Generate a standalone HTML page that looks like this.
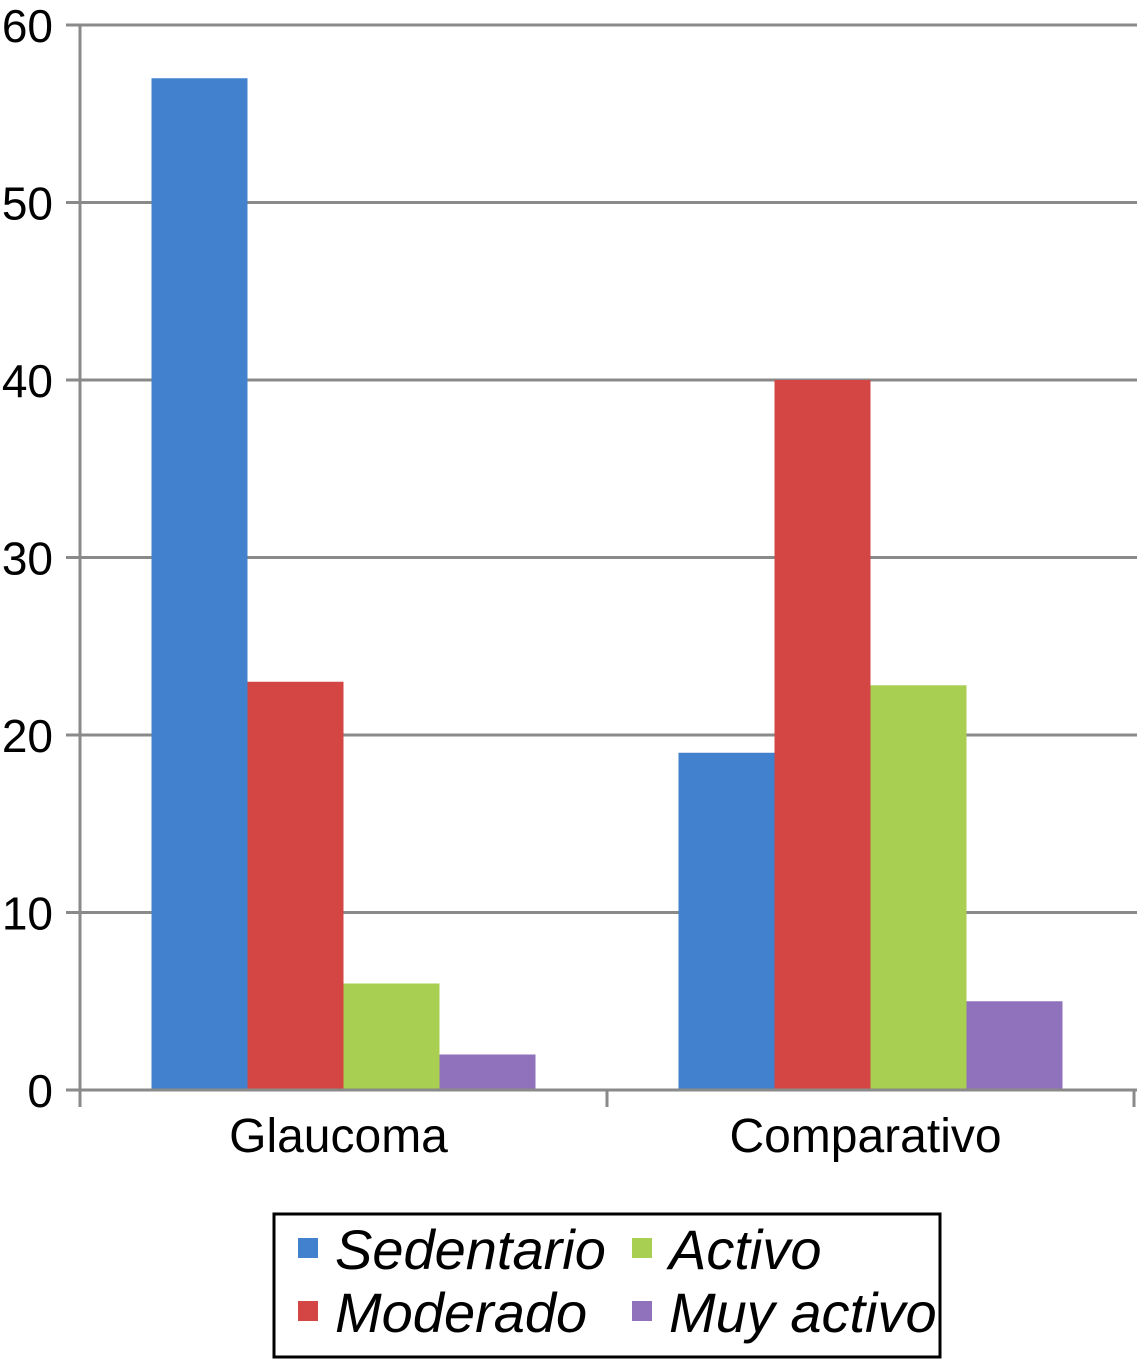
<!DOCTYPE html>
<html><head><meta charset="utf-8"><style>
html,body{margin:0;padding:0;background:#fff;}
svg{display:block;font-family:"Liberation Sans",sans-serif;}
</style></head><body>
<svg id="chart" width="1137" height="1359" viewBox="0 0 1137 1359"></svg>
<script>
const categories = ["Glaucoma","Comparativo"];
const seriesNames = ["Sedentario","Moderado","Activo","Muy activo"];
const sedentario = [57, 19];
const moderado = [23, 40];
const activo = [6, 22.8];
const muyActivo = [2, 5];
const yTicks = [0,10,20,30,40,50,60];
const colors = ["#4181cd","#d34643","#a8ce52","#9071bb"];
const series = [sedentario, moderado, activo, muyActivo];

const NS="http://www.w3.org/2000/svg";
const svg=document.getElementById('chart');
const x0=80, x1=1134, yBase=1090, yTop=25, yMax=60;
const y=v=>yBase-(v/yMax)*(yBase-yTop);
const catW=(x1-x0)/categories.length;
const barW=96;
function mk(tag,attrs){const e=document.createElementNS(NS,tag);for(const k in attrs)e.setAttribute(k,attrs[k]);svg.appendChild(e);return e;}

yTicks.forEach(t=>{
  const g=mk('line',{x1:66,x2:x1+3,y1:y(t),y2:y(t),stroke:'#8a8a8a','stroke-width':3});
  
  
  const l=mk('text',{x:53,y:y(t)+17,'text-anchor':'end','font-size':46,fill:'#000'});
  l.textContent=t;
  
  
});

categories.forEach((c,ci)=>{
  const start=x0+catW*ci+(catW-barW*series.length)/2;
  series.forEach((s,si)=>{
    const r=mk('rect',{x:start+si*barW,y:y(s[ci]),width:barW,height:yBase-y(s[ci]),fill:colors[si]});
    
    
  });
  const t=mk('text',{x:x0+catW*(ci+0.5)-5,y:1152,'text-anchor':'middle','font-size':48,fill:'#000'});
  t.textContent=c;
  
  
});

const ax=mk('line',{x1:x0,x2:x0,y1:yTop-1,y2:1107,stroke:'#8a8a8a','stroke-width':3});


const bx=mk('line',{x1:x0,x2:x1+3,y1:yBase,y2:yBase,stroke:'#8a8a8a','stroke-width':3});


for(let i=0;i<=categories.length;i++){
  const tk=mk('line',{x1:x0+catW*i,x2:x0+catW*i,y1:yBase,y2:1107,stroke:'#8a8a8a','stroke-width':3});
  
  
}

const box=mk('rect',{x:274,y:1214,width:666,height:143,fill:'#fff',stroke:'#000','stroke-width':3});


const pos=[[298,1250],[298,1313],[632,1250],[632,1313]];
seriesNames.forEach((n,i)=>{
  const [lx,ly]=pos[i];
  const sw=mk('rect',{x:lx,y:ly-12,width:20,height:20,fill:colors[i]});
  
  
  const t=mk('text',{x:lx+37,y:ly+19,'font-size':56,'font-style':'italic',fill:'#000'});
  t.textContent=n;
  
  
});
</script>
</body></html>
